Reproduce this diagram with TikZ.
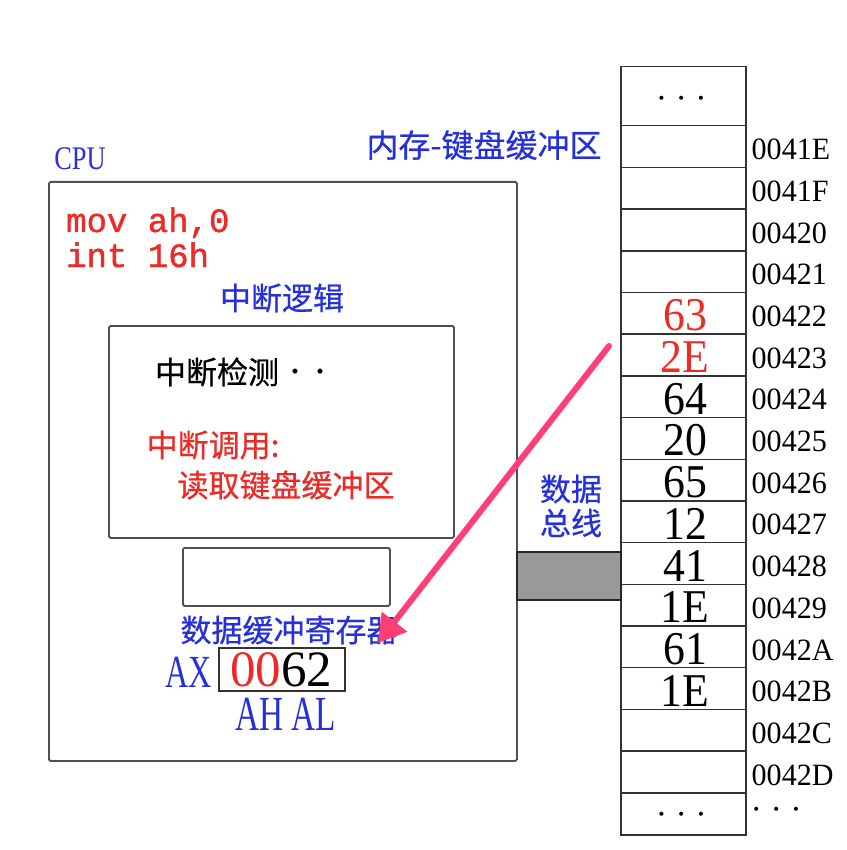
\documentclass[tikz,border=0pt]{standalone}
\usepackage{fontspec}
\usepackage{graphicx}
\setmainfont{Liberation Serif}
\newfontfamily\cjk[FakeBold=0.6]{Noto Sans CJK SC}
\newfontfamily\monof[FakeBold=1.2]{Liberation Mono}
\usetikzlibrary{arrows.meta,calc}
\definecolor{tblue}{RGB}{38,48,218}
\definecolor{tred}{RGB}{236,42,38}
\definecolor{arrowpink}{RGB}{255,62,118}
\definecolor{boxgray}{RGB}{80,80,80}
\definecolor{busgray}{RGB}{153,153,153}
\newcommand{\narrowtxt}[2]{\scalebox{#1}[1]{#2}}
\begin{document}
\begin{tikzpicture}[x=1pt,y=-1pt,
  box/.style={draw=boxgray,line width=1.8pt,inner sep=0pt,anchor=north west,rounded corners=1.5pt},
  cell/.style={draw=black!80,line width=1.5pt,minimum width=125pt,minimum height=41.69pt,inner sep=0pt,anchor=north west},
  cjkt/.style={font=\cjk\fontsize{31}{33}\selectfont,inner sep=0pt},
  addr/.style={font=\fontsize{31}{33}\selectfont,inner sep=0pt,anchor=west},
  val/.style={font=\fontsize{47}{48}\selectfont,inner sep=0pt},
  code/.style={font=\monof\fontsize{34}{36}\selectfont,text=tred,inner sep=0pt,anchor=base west},
  dots/.style={font=\fontsize{34}{36}\selectfont,inner sep=0pt}
]
\useasboundingbox (0,0) rectangle (846,850);

% CPU
\node[box, minimum width=468pt, minimum height=579pt] (cpu) at (48,181) {};
\node[inner sep=0pt, text=tblue, font=\fontsize{33}{35}\selectfont] (cpulbl) at (80,159) {\narrowtxt{0.8}{CPU}};
\node[code] (c1) at (66,232) {mov ah,0};
\node[code] (c2) at (66,267) {int 16h};
\node[cjkt, text=tblue] (logic) at (282,298) {中断逻辑};

\node[box, minimum width=345pt, minimum height=212pt] (inner) at (108,325) {};
\node[cjkt, text=black] (detect) at (217,372) {中断检测};
\node[inner sep=0pt, font=\fontsize{42}{44}\selectfont] (ddots) at (308,377) {· ·};
\node[cjkt, text=tred] (call) at (213,445) {中断调用:};
\node[cjkt, text=tred] (readkb) at (286,485) {读取键盘缓冲区};

\node[box, minimum width=207pt, minimum height=58pt] (buf) at (182,547) {};
\node[cjkt, text=tblue] (buflbl) at (289,630) {数据缓冲寄存器};

\node[box, draw=black!80, line width=1.5pt, rounded corners=0pt, minimum width=126pt, minimum height=43pt] (reg) at (218,647) {};
\node[inner sep=0pt, text=tblue, font=\fontsize{46}{48}\selectfont] (axl) at (188.5,672.5) {\narrowtxt{0.7}{AX}};
\node[inner sep=0pt, font=\fontsize{51}{53}\selectfont] (regval) at (281,670) {\textcolor{tred}{00}62};
\node[inner sep=0pt, text=tblue, font=\fontsize{49}{51}\selectfont] (ahal) at (285.5,714.5) {\narrowtxt{0.68}{AH AL}};

% Memory
\node[cjkt, text=tblue, font=\cjk\fontsize{32}{34}\selectfont] (memlbl) at (484,145) {内存-键盘缓冲区};
\node[cell, minimum height=59pt] (m0) at (620,66) {};
\foreach \i in {1,...,16} {
  \node[cell] (m\i) at (620,{125+41.69*(\i-1)}) {};
}
\node[cell, minimum height=42pt] (m17) at (620,792) {};
\node[dots] (topdots) at ($(m0.center)+(-2,7)$) {· · ·};
\node[dots] (botdots) at ($(m17.center)+(-2,5)$) {· · ·};
\node[dots, anchor=west] (adots) at ($(m17.east)+(4,0)$) {· · ·};

\foreach \i/\a in {1/0041E,2/0041F,3/00420,4/00421,5/00422,6/00423,7/00424,8/00425,9/00426,10/00427,11/00428,12/00429,13/0042A,14/0042B,15/0042C,16/0042D} {
  \node[addr] (a\i) at ($(m\i.east)+(5,3)$) {\narrowtxt{0.97}{\a}};
}
\foreach \i/\v/\c in {5/63/tred,6/2E/tred,7/64/black,8/20/black,9/65/black,10/12/black,11/41/black,12/1E/black,13/61/black,14/1E/black} {
  \node[val, text=\c] (v\i) at ($(m\i.center)+(2,2)$) {\narrowtxt{0.93}{\v}};
}

% Data bus
\node[cjkt, text=tblue] (bus1) at (571,489) {数据};
\node[cjkt, text=tblue] (bus2) at (571,523) {总线};
\node[box, draw=black!85, line width=1.5pt, rounded corners=0pt, fill=busgray, minimum width=104pt, minimum height=48pt] (bus) at (516,551) {};

% Arrow
\coordinate (as) at (609,346);
\coordinate (ae) at (378,643);
\draw[arrowpink, line width=6pt, line cap=round, -{Triangle[length=27pt,width=31pt]}] (as) -- (ae);
\end{tikzpicture}
\end{document}
